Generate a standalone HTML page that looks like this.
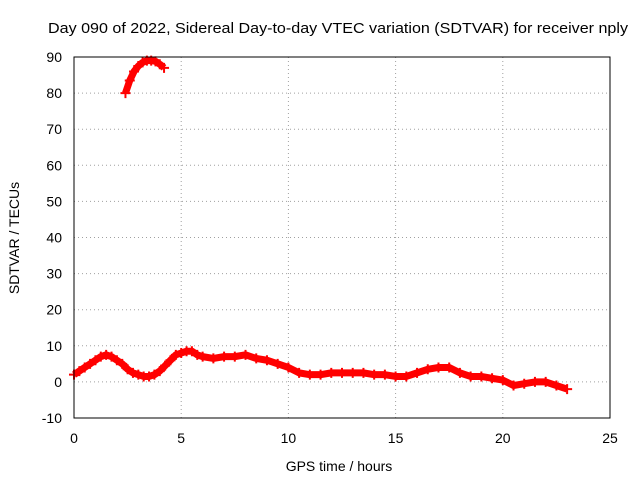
<!DOCTYPE html>
<html><head><meta charset="utf-8"><style>
body{margin:0;background:#fff;}
svg{display:block;font-family:"Liberation Sans",sans-serif;}
</style></head><body>
<svg id="chart" width="640" height="480">
<rect width="640" height="480" fill="#fff"/>
<text x="48" y="33" font-size="15" textLength="580" lengthAdjust="spacingAndGlyphs">Day 090 of 2022, Sidereal Day-to-day VTEC variation (SDTVAR) for receiver nply</text>
<g id="grid"></g><g id="axes"></g><g id="series"></g>
<rect x="74" y="57" width="536" height="361" fill="none" stroke="#000" stroke-width="1"/>
<text x="339" y="471" font-size="14" text-anchor="middle">GPS time / hours</text>
<text transform="translate(19,238) rotate(-90)" font-size="14" text-anchor="middle">SDTVAR / TECUs</text>
</svg>
<script>
const xTicks=[0,5,10,15,20,25];
const yTicks=[-10,0,10,20,30,40,50,60,70,80,90];
const mainTimes=[0,0.25,0.5,0.75,1,1.25,1.5,1.75,2,2.25,2.5,2.75,3,3.25,3.5,3.75,4,4.25,4.5,4.75,5,5.25,5.5,5.75,6,6.5,7,7.5,8,8.5,9,9.5,10,10.5,11,11.5,12,12.5,13,13.5,14,14.5,15,15.5,16,16.5,17,17.5,18,18.5,19,19.5,20,20.5,21,21.5,22,22.5,23];
const mainValues=[2,3,4,5,6,7,7.5,7,6,5,3.5,2.5,2,1.5,1.5,2,3,4.5,6,7.5,8,8.5,8.5,7.5,7,6.5,7,7,7.5,6.5,6,5,4,2.5,2,2,2.5,2.5,2.5,2.5,2,2,1.5,1.5,2.5,3.5,4,4,2.5,1.5,1.5,1,0.5,-1,-0.5,0,0,-1,-2];
const upperTimes=[2.4,2.6,2.8,3.0,3.2,3.4,3.6,3.8,4.0,4.2];
const upperValues=[80,83.5,86,87.5,88.5,89,89,88.8,88,87];
const X=t=>74+(t-0)/25*536;
const Y=v=>418-(v+10)/100*361;
const NS="http://www.w3.org/2000/svg";
function mk(tag,parent){const e=document.createElementNS(NS,tag);parent.appendChild(e);return e;}
const grid=document.getElementById('grid'),axes=document.getElementById('axes'),ser=document.getElementById('series');
xTicks.forEach(t=>{
 const x=X(t);
 if(t>0&&t<25){const l=mk('line',grid);l.setAttribute('x1',x);l.setAttribute('x2',x);l.setAttribute('y1',57);l.setAttribute('y2',418);l.setAttribute('stroke','#a0a0a0');l.setAttribute('stroke-dasharray','1,3');
 
 }
 const tk=mk('text',axes);tk.setAttribute('x',x);tk.setAttribute('y',443);tk.setAttribute('font-size','14');tk.setAttribute('text-anchor','middle');tk.textContent=t;
 
 
});
yTicks.forEach(v=>{
 const y=Y(v);
 if(v>-10&&v<90){const l=mk('line',grid);l.setAttribute('x1',74);l.setAttribute('x2',610);l.setAttribute('y1',y);l.setAttribute('y2',y);l.setAttribute('stroke','#a0a0a0');l.setAttribute('stroke-dasharray','1,3');
 
 }
 const tk=mk('text',axes);tk.setAttribute('x',62);tk.setAttribute('y',y+5);tk.setAttribute('font-size','14');tk.setAttribute('text-anchor','end');tk.textContent=v;
 
 
});
function series(ts,vs,name){
 const p=mk('polyline',ser);
 p.setAttribute('points',ts.map((t,i)=>X(t)+','+Y(vs[i])).join(' '));
 p.setAttribute('fill','none');p.setAttribute('stroke','#ff0000');p.setAttribute('stroke-width','7');p.setAttribute('stroke-linejoin','round');
 
 
 ts.forEach((t,i)=>{
  const m=mk('path',ser);const x=X(t),y=Y(vs[i]);
  m.setAttribute('d',`M${x-5},${y}H${x+5}M${x},${y-5}V${y+5}`);m.setAttribute('stroke','#ff0000');m.setAttribute('stroke-width','2');
  
  
 });
}
series(mainTimes,mainValues,'sdtvar-main-series');
series(upperTimes,upperValues,'sdtvar-upper-series');
</script>
</body></html>
